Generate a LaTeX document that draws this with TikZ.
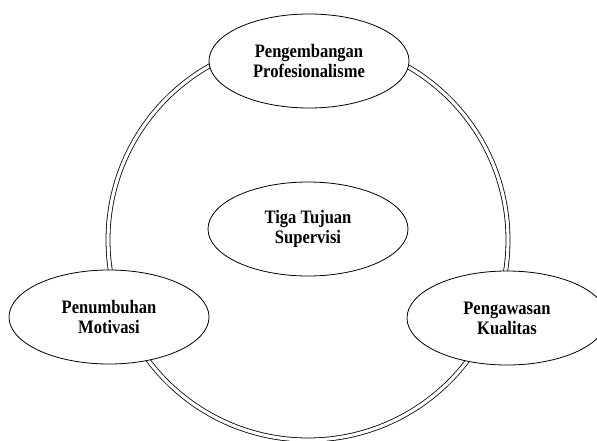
\documentclass[tikz,border=0pt]{standalone}
\usepackage{fontspec}
\setmainfont[FakeStretch=0.87]{Liberation Serif}
\usetikzlibrary{shapes.geometric}
\tikzset{
  goal/.style={ellipse, draw=black, line width=0.8pt, fill=white, inner sep=0pt,
    minimum width=200pt, minimum height=94pt, align=center,
    font=\fontsize{19}{20}\selectfont\bfseries},
  ring/.style={draw=black, double=white, double distance=3.2pt, line width=0.8pt}
}
\begin{document}
\begin{tikzpicture}[x=1pt,y=-1pt]
\useasboundingbox (0,0) rectangle (597,441);
\fill[white] (0,0) rectangle (597,441);
\coordinate (c) at (308,240);
\draw[ring] (c) circle [radius=200];
\node[goal] (top) at (309,61) {Pengembangan\\Profesionalisme};
\node[goal] (mid) at (308,229) {Tiga Tujuan\\Supervisi};
\node[goal] (left) at (109,317) {Penumbuhan\\Motivasi};
\node[goal] (right) at (507,318) {Pengawasan\\Kualitas};
\end{tikzpicture}
\end{document}
